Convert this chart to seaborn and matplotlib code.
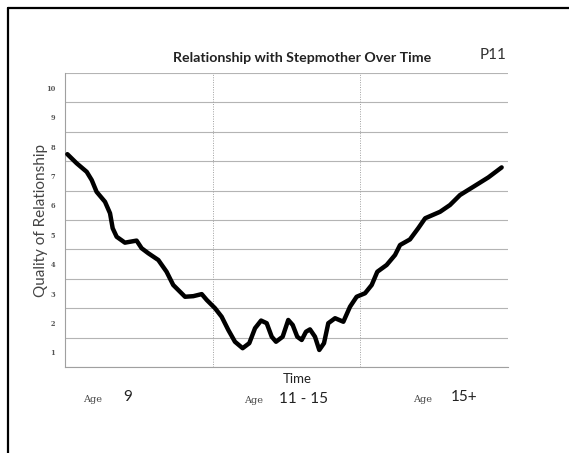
import numpy as np
import pandas as pd
import matplotlib.pyplot as plt
import seaborn as sns
from matplotlib.lines import Line2D

# traced points of the hand drawn curve (time in thirds, quality 1-10)
time_pos = [0.016, 0.079, 0.147, 0.181, 0.214, 0.271, 0.305, 0.323, 0.350, 0.406,
            0.485, 0.519, 0.564, 0.632, 0.688, 0.733, 0.813, 0.869, 0.926, 0.960,
            1.016, 1.061, 1.106, 1.151, 1.203, 1.248, 1.287, 1.328, 1.366, 1.400,
            1.429, 1.474, 1.512, 1.542, 1.573, 1.603, 1.632, 1.659, 1.693, 1.722,
            1.754, 1.783, 1.829, 1.885, 1.930, 1.975, 2.032, 2.077, 2.115, 2.178,
            2.235, 2.269, 2.336, 2.392, 2.439, 2.540, 2.607, 2.675, 2.765, 2.867,
            2.957]
quality = [7.74, 7.43, 7.14, 6.86, 6.46, 6.12, 5.73, 5.22, 4.93, 4.73,
           4.80, 4.54, 4.37, 4.14, 3.74, 3.29, 2.89, 2.91, 2.98, 2.78,
           2.50, 2.21, 1.76, 1.36, 1.14, 1.31, 1.82, 2.08, 1.99, 1.53,
           1.36, 1.53, 2.10, 1.93, 1.53, 1.42, 1.70, 1.78, 1.53, 1.08,
           1.31, 1.99, 2.16, 2.04, 2.55, 2.89, 3.01, 3.29, 3.74, 3.97,
           4.31, 4.65, 4.84, 5.22, 5.56, 5.78, 6.01, 6.35, 6.63, 6.95,
           7.29]

y_ticks = list(range(1, 11))
age_labels = ["9", "11 - 15", "15+"]

df = pd.DataFrame({"Time": time_pos, "Quality": quality})

sns.set_theme(style="white")
plt.rcParams['font.family'] = ['Lato', 'DejaVu Sans']

fig = plt.figure(figsize=(5.69, 4.53), dpi=100)
ax = fig.add_axes([0.1142, 0.1898, 0.7786, 0.649])

# horizontal band lines between the numbered rows
for yy in np.arange(0.5, 11.0, 1.0):
    ax.axhline(yy, color="#b4b4b4", lw=0.8, zorder=1)
for xx in [1, 2]:
    ax.axvline(xx, color="#a0a0a0", lw=0.7, ls=(0, (1, 1.5)), zorder=1)

sns.lineplot(data=df, x="Time", y="Quality", ax=ax, color="black", lw=3.2,
             sort=False, solid_joinstyle="round", solid_capstyle="round", zorder=3)

ax.set_xlim(0, 3)
ax.set_ylim(0.5, 10.5)
ax.set_yticks(y_ticks)
ax.set_yticklabels([str(t) for t in y_ticks], family="DejaVu Serif", fontsize=4.8,
                   fontweight="bold", color="#555555")
ax.set_xticks([])
ax.tick_params(axis="y", length=0, pad=7)
ax.set_xlabel("")
ax.set_ylabel("Quality of Relationship", fontsize=11, color="#444444", labelpad=2)
ax.yaxis.set_label_coords(-0.038, 0.5)

for side in ["top", "right"]:
    ax.spines[side].set_visible(False)
ax.spines["left"].set_color("#a0a0a0")
ax.spines["left"].set_linewidth(0.8)
ax.spines["bottom"].set_color("#a0a0a0")
ax.spines["bottom"].set_linewidth(0.8)

fig.text(0.531, 0.872, "Relationship with Stepmother Over Time", ha="center", va="center",
         fontsize=10.2, fontweight="bold", color="#222222")
fig.text(0.866, 0.879, "P11", ha="center", va="center", fontsize=11, color="#333333")
fig.text(0.522, 0.163, "Time", ha="center", va="center", fontsize=9.5, color="#222222")

age_x = [0.162, 0.445, 0.742]
num_x = [0.225, 0.533, 0.815]
age_y = [0.119, 0.115, 0.119]
for ax_, nx, ay, lab in zip(age_x, num_x, age_y, age_labels):
    fig.text(ax_, ay, "Age", ha="center", va="center", fontsize=7,
             family="DejaVu Serif", color="#444444")
    fig.text(nx, ay + 0.005, lab, ha="center", va="center", fontsize=11,
             color="#222222")

# scanned page frame
fig.add_artist(Line2D([0.014, 0.014], [0.0, 0.982], color="black", lw=1.6,
                      transform=fig.transFigure))
fig.add_artist(Line2D([0.014, 1.0], [0.982, 0.982], color="black", lw=1.6,
                      transform=fig.transFigure))

fig.savefig("out.png", dpi=100)
